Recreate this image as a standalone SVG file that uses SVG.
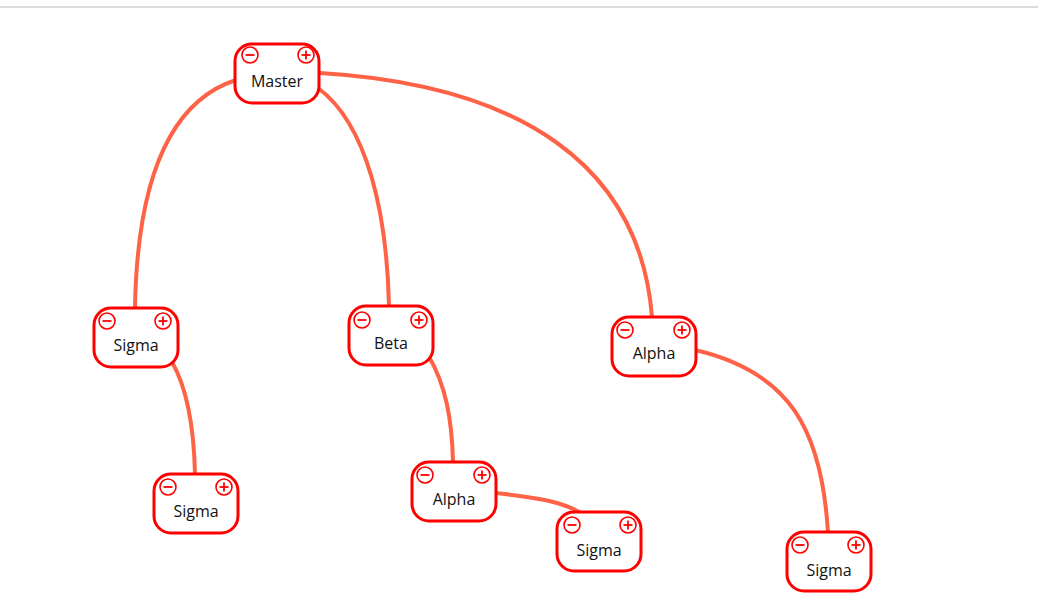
<svg xmlns="http://www.w3.org/2000/svg" xmlns:xlink="http://www.w3.org/1999/xlink" width="1038" height="593" viewBox="0 0 1038 593">
  <style>
    .link { fill: none; stroke: #ff6347; stroke-width: 4; }
    .box { fill: #ffffff; stroke: #ff0000; stroke-width: 3; }
    .btn { fill: #ffffff; stroke: #ff0000; stroke-width: 1.6; }
    .sign { stroke: #ff0000; stroke-width: 1.8; fill: none; }
    .label { font-family: "Open Sans", "Noto Sans", "Liberation Sans", sans-serif; font-size: 16px; fill: #111111; text-anchor: middle; }
  </style>
  <defs>
    <!-- collapse / expand buttons shared by every node -->
    <g id="minus">
      <circle class="btn" cx="0" cy="0" r="8"/>
      <line class="sign" x1="-4.5" y1="0" x2="4.5" y2="0"/>
    </g>
    <g id="plus">
      <circle class="btn" cx="0" cy="0" r="8"/>
      <line class="sign" x1="-4.5" y1="0" x2="4.5" y2="0"/>
      <line class="sign" x1="0" y1="-4.5" x2="0" y2="4.5"/>
    </g>
    <rect id="frame" class="box" x="0" y="0" width="84" height="59" rx="17" ry="17"/>
  </defs>

  <rect x="0" y="0" width="1038" height="593" fill="#ffffff"/>
  <!-- toolbar divider -->
  <rect x="0" y="6" width="1038" height="2" fill="#dcdcdc"/>

  <g id="connectors">
    <path class="link" d="M236,80 C165,103 137,190 135,308"/>
    <path class="link" d="M318,88 C368,125 387,215 389,306"/>
    <path class="link" d="M320,73 C520,85 640,165 652,317"/>
    <path class="link" d="M172,362 C188,390 194,430 195,474"/>
    <path class="link" d="M428,355 C446,385 452,420 453,462"/>
    <path class="link" d="M495,493 C535,497 565,502 582,514"/>
    <path class="link" d="M695,350 C790,372 822,430 828,533"/>
  </g>

  <g id="node-master" transform="translate(235,44)">
    <use xlink:href="#frame"/>
    <use xlink:href="#minus" x="15" y="11"/>
    <use xlink:href="#plus" x="71" y="11"/>
    <text class="label" x="42" y="43">Master</text>
  </g>
  <g id="node-sigma-1" transform="translate(94,308)">
    <use xlink:href="#frame"/>
    <use xlink:href="#minus" x="13" y="13"/>
    <use xlink:href="#plus" x="69" y="13"/>
    <text class="label" x="42" y="43">Sigma</text>
  </g>
  <g id="node-beta" transform="translate(349,306)">
    <use xlink:href="#frame"/>
    <use xlink:href="#minus" x="13" y="14"/>
    <use xlink:href="#plus" x="70" y="14"/>
    <text class="label" x="42" y="43">Beta</text>
  </g>
  <g id="node-alpha-1" transform="translate(612,317)">
    <use xlink:href="#frame"/>
    <use xlink:href="#minus" x="13" y="13"/>
    <use xlink:href="#plus" x="70" y="13"/>
    <text class="label" x="42" y="42">Alpha</text>
  </g>
  <g id="node-sigma-2" transform="translate(154,474)">
    <use xlink:href="#frame"/>
    <use xlink:href="#minus" x="14" y="13"/>
    <use xlink:href="#plus" x="70" y="13"/>
    <text class="label" x="42" y="43">Sigma</text>
  </g>
  <g id="node-alpha-2" transform="translate(412,462)">
    <use xlink:href="#frame"/>
    <use xlink:href="#minus" x="13" y="13"/>
    <use xlink:href="#plus" x="70" y="13"/>
    <text class="label" x="42" y="43">Alpha</text>
  </g>
  <g id="node-sigma-3" transform="translate(557,512)">
    <use xlink:href="#frame"/>
    <use xlink:href="#minus" x="15" y="13"/>
    <use xlink:href="#plus" x="71" y="13"/>
    <text class="label" x="42" y="44">Sigma</text>
  </g>
  <g id="node-sigma-4" transform="translate(787,532)">
    <use xlink:href="#frame"/>
    <use xlink:href="#minus" x="13" y="13"/>
    <use xlink:href="#plus" x="69" y="13"/>
    <text class="label" x="42" y="44">Sigma</text>
  </g>
</svg>
